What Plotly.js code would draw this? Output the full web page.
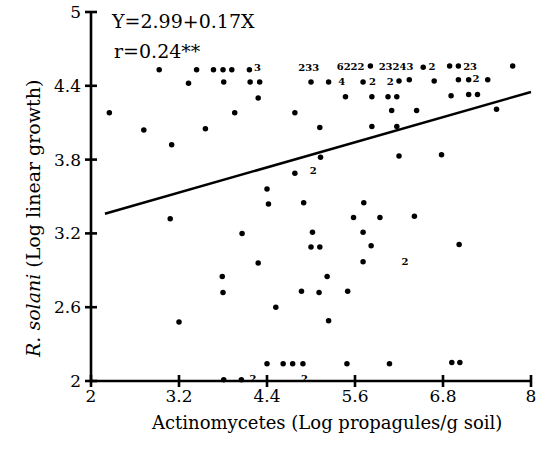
<!DOCTYPE html>
<html>
<head>
<meta charset="utf-8">
<script src="https://cdn.plot.ly/plotly-3.0.1.min.js"></script>
<style>html,body{margin:0;padding:0;background:#fff;}#chart{width:546px;height:449px;}</style>
</head>
<body>
<div id="chart"></div>
<script>
// Single observations (log propagules/g soil, log linear growth)
const dotX = [2.93,3.44,3.67,3.80,3.92,4.16,5.81,6.53,6.89,7.01,7.75,
  3.33,3.81,4.17,4.30,5.00,5.24,5.71,6.20,6.34,6.68,7.01,7.15,7.41,
  4.28,5.47,5.83,6.05,6.17,6.91,7.15,7.27,
  2.25,3.96,4.78,6.10,6.44,7.53,
  2.72,3.56,5.12,5.83,6.17,
  3.10,
  5.13,6.20,6.78,
  4.78,
  4.40,4.42,4.90,5.72,
  3.08,5.58,5.94,6.41,
  4.06,5.02,5.71,
  5.00,5.12,5.82,7.02,
  4.28,5.71,
  3.79,5.22,
  3.80,4.87,5.11,5.50,
  4.52,
  3.20,5.24,
  4.40,4.62,4.75,4.89,5.49,6.07,6.92,7.03,
  3.81,4.05];
const dotY = [4.53,4.53,4.53,4.53,4.53,4.53,4.56,4.55,4.56,4.56,4.56,
  4.42,4.43,4.43,4.43,4.43,4.43,4.43,4.44,4.45,4.44,4.45,4.45,4.45,
  4.30,4.31,4.31,4.31,4.31,4.32,4.33,4.33,
  4.18,4.18,4.18,4.20,4.20,4.21,
  4.04,4.05,4.06,4.07,4.07,
  3.92,
  3.82,3.83,3.84,
  3.69,
  3.56,3.44,3.45,3.45,
  3.32,3.33,3.33,3.34,
  3.20,3.21,3.21,
  3.09,3.09,3.10,3.11,
  2.96,2.97,
  2.85,2.85,
  2.72,2.73,2.72,2.73,
  2.60,
  2.48,2.49,
  2.14,2.14,2.14,2.14,2.14,2.14,2.15,2.15,
  2.01,2.01];

// Numbers of coinciding observations printed on the chart
const countX = [4.27,4.97,5.54,6.16,6.65,7.17,5.42,5.84,6.08,7.25,5.03,6.28,4.21,4.91];
const countY = [4.54,4.54,4.55,4.55,4.55,4.55,4.43,4.43,4.43,4.45,3.70,2.96,2.01,2.01];
const countText = ["3","233","6222","23243","2","23","4","2","2","2","2","2","2","2"];

// Regression line Y = 2.99 + 0.17X (end points)
const lineX = [2.19, 8.0];
const lineY = [3.36, 4.35];

const xTicks = [2, 3.2, 4.4, 5.6, 6.8, 8];
const yTicks = [2, 2.6, 3.2, 3.8, 4.4, 5];

const serif = "DejaVu Serif";

// ---- geometry (pixels) ----
const W = 546, H = 449;
const PAD = 10;
const AX_L = 91, AX_R = 531, AX_T = 12, AX_B = 381;
const x0 = xTicks[0], x1 = xTicks[xTicks.length - 1];
const y0 = yTicks[0], y1 = yTicks[yTicks.length - 1];
const xu = (AX_R - AX_L) / (x1 - x0);
const yu = (AX_B - AX_T) / (y1 - y0);
const xRange = [x0 - PAD / xu, x1 + PAD / xu];
const yRange = [y0 - PAD / yu, y1 + PAD / yu];
const margin = {l: AX_L - PAD, r: W - AX_R - PAD, t: AX_T - PAD, b: H - AX_B - PAD};
const plotW = W - margin.l - margin.r, plotH = H - margin.t - margin.b;
const TICK = 6;

const axLine = {color: "#000", width: 2.6, simplify: false};
const traces = [
  {x: lineX, y: lineY, mode: "lines", type: "scatter",
   line: {color: "#000", width: 2.5}, hoverinfo: "skip"},
  // x axis line
  {x: [x0, x1], y: [y0, y0], mode: "lines", type: "scatter", line: axLine, hoverinfo: "skip"},
  // y axis line
  {x: [x0, x0], y: [y0, y1], mode: "lines", type: "scatter", line: axLine, hoverinfo: "skip"}
];
// cross-shaped ticks, one small trace per tick
xTicks.forEach(v => traces.push({x: [v, v], y: [y0 - TICK / yu, y0 + TICK / yu],
  mode: "lines", type: "scatter", line: axLine, hoverinfo: "skip"}));
yTicks.forEach(v => traces.push({x: [x0 - TICK / xu, x0 + TICK / xu], y: [v, v],
  mode: "lines", type: "scatter", line: axLine, hoverinfo: "skip"}));
traces.push(
  {x: dotX, y: dotY, mode: "markers", type: "scatter", cliponaxis: false,
   marker: {color: "#000", size: 5.5}},
  {x: countX, y: countY, mode: "text", type: "scatter", cliponaxis: false,
   text: countText, textposition: "middle center",
   textfont: {family: serif, size: 10, color: "#000", weight: "bold"}}
);

const layout = {
  width: W, height: H,
  margin: margin,
  paper_bgcolor: "#fff", plot_bgcolor: "#fff",
  showlegend: false,
  xaxis: {range: xRange, tickmode: "array", tickvals: xTicks,
    anchor: "free", position: PAD / plotH,
    showgrid: false, zeroline: false, showline: false, ticks: "", ticklabelstandoff: 3,
    tickfont: {family: serif, size: 17, color: "#000"}},
  yaxis: {range: yRange, tickmode: "array", tickvals: yTicks,
    anchor: "free", position: PAD / plotW,
    showgrid: false, zeroline: false, showline: false, ticks: "", ticklabelstandoff: 10,
    tickfont: {family: serif, size: 17, color: "#000"}},
  annotations: [
    {text: "Y=2.99+0.17X", xref: "x", yref: "y", x: 2.25, y: 4.93, xanchor: "left", yanchor: "middle",
     showarrow: false, font: {family: serif, size: 19, color: "#000"}},
    {text: "r=0.24**", xref: "x", yref: "y", x: 2.29, y: 4.68, xanchor: "left", yanchor: "middle",
     showarrow: false, font: {family: serif, size: 19, color: "#000"}},
    {text: "Actinomycetes (Log propagules/g soil)", xref: "paper", yref: "paper",
     x: (326.5 - margin.l) / plotW, y: -(422.5 - (H - margin.b)) / plotH, xanchor: "center", yanchor: "middle",
     showarrow: false, font: {family: serif, size: 18, color: "#000"}},
    {text: "<i>R. solani</i> (Log linear growth)", xref: "paper", yref: "paper",
     x: -(margin.l - 33) / plotW, y: ((H - margin.b) - 219) / plotH, xanchor: "center", yanchor: "middle", textangle: -90,
     showarrow: false, font: {family: serif, size: 19, color: "#000"}}
  ]
};

Plotly.newPlot("chart", traces, layout, {displayModeBar: false, staticPlot: true});
</script>
</body>
</html>
